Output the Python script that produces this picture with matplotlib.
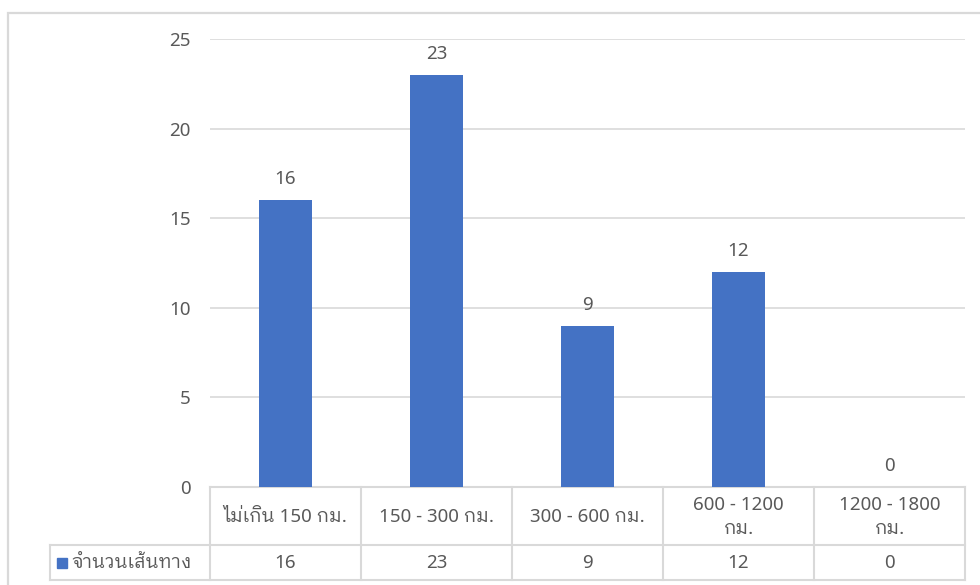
import matplotlib
matplotlib.use('Agg')
import matplotlib.pyplot as plt
from matplotlib.patches import Rectangle
from matplotlib.transforms import blended_transform_factory

plt.rcParams['font.family'] = ['Noto Sans', 'IBM Plex Sans Thai Looped', 'Noto Sans Thai Looped', 'DejaVu Sans']

# data
categories = ['ไม่เกิน 150 กม.', '150 - 300 กม.', '300 - 600 กม.',
              '600 - 1200\nกม.', '1200 - 1800\nกม.']
values = [16, 23, 9, 12, 0]
series_name = 'จำนวนเส้นทาง'
yticks = [0, 5, 10, 15, 20, 25]

W, H = 980, 585
bar_color = '#4472C4'
text_color = '#595959'
line_color = '#D9D9D9'
fs = 13.5

fig = plt.figure(figsize=(W / 100, H / 100), dpi=100)

# chart border (excel chart area)
fig.patches.append(Rectangle((8 / W, -0.1), 1.2, 1 - 13 / H + 0.1, transform=fig.transFigure,
                             fill=False, edgecolor=line_color, lw=1.6))

ax = fig.add_axes([210 / W, 1 - 487 / H, 755 / W, 448 / H])
x = range(len(categories))
bars = ax.bar(x, values, width=0.35, color=bar_color, zorder=3)
ax.bar_label(bars, padding=8.5, color=text_color, fontsize=fs)

ax.set_xlim(-0.5, len(categories) - 0.5)
ax.set_ylim(0, 25)
ax.set_yticks(yticks)
ax.set_xticks([])
ax.tick_params(axis='y', length=0, pad=14, labelcolor=text_color, labelsize=fs)
ax.grid(axis='y', color=line_color, lw=1.2, zorder=0)
for s in ax.spines.values():
    s.set_visible(False)

# data table under the plot
tr = blended_transform_factory(ax.transData, fig.transFigure)
def fy(py):
    return 1 - py / H

y_top, y_mid, y_bot = fy(487), fy(545), fy(580)
n = len(categories)
ax.plot([-0.5, n - 0.5], [y_top, y_top], transform=tr, color=line_color, lw=1.5, clip_on=False)
for b in [i - 0.5 for i in range(n + 1)]:
    ax.plot([b, b], [y_top, y_bot], transform=tr, color=line_color, lw=1.5, clip_on=False)
for yy in (y_mid, y_bot):
    fig.add_artist(plt.Line2D([50 / W, 965 / W], [yy, yy], color=line_color, lw=1.5))
fig.add_artist(plt.Line2D([50 / W, 50 / W], [y_mid, y_bot], color=line_color, lw=1.5))

for i, (c, v) in enumerate(zip(categories, values)):
    ax.text(i, fy(517), c, transform=tr, ha='center', va='center',
            color=text_color, fontsize=fs, linespacing=1.45)
    ax.text(i, fy(563), str(v), transform=tr, ha='center', va='center',
            color=text_color, fontsize=fs)

# legend key in the table
fig.patches.append(Rectangle((57 / W, fy(568)), 10 / W, 10 / H, transform=fig.transFigure,
                             color=bar_color))
fig.text(71 / W, fy(563), series_name, ha='left', va='center', color=text_color, fontsize=fs)

fig.savefig('out.png', dpi=100)
